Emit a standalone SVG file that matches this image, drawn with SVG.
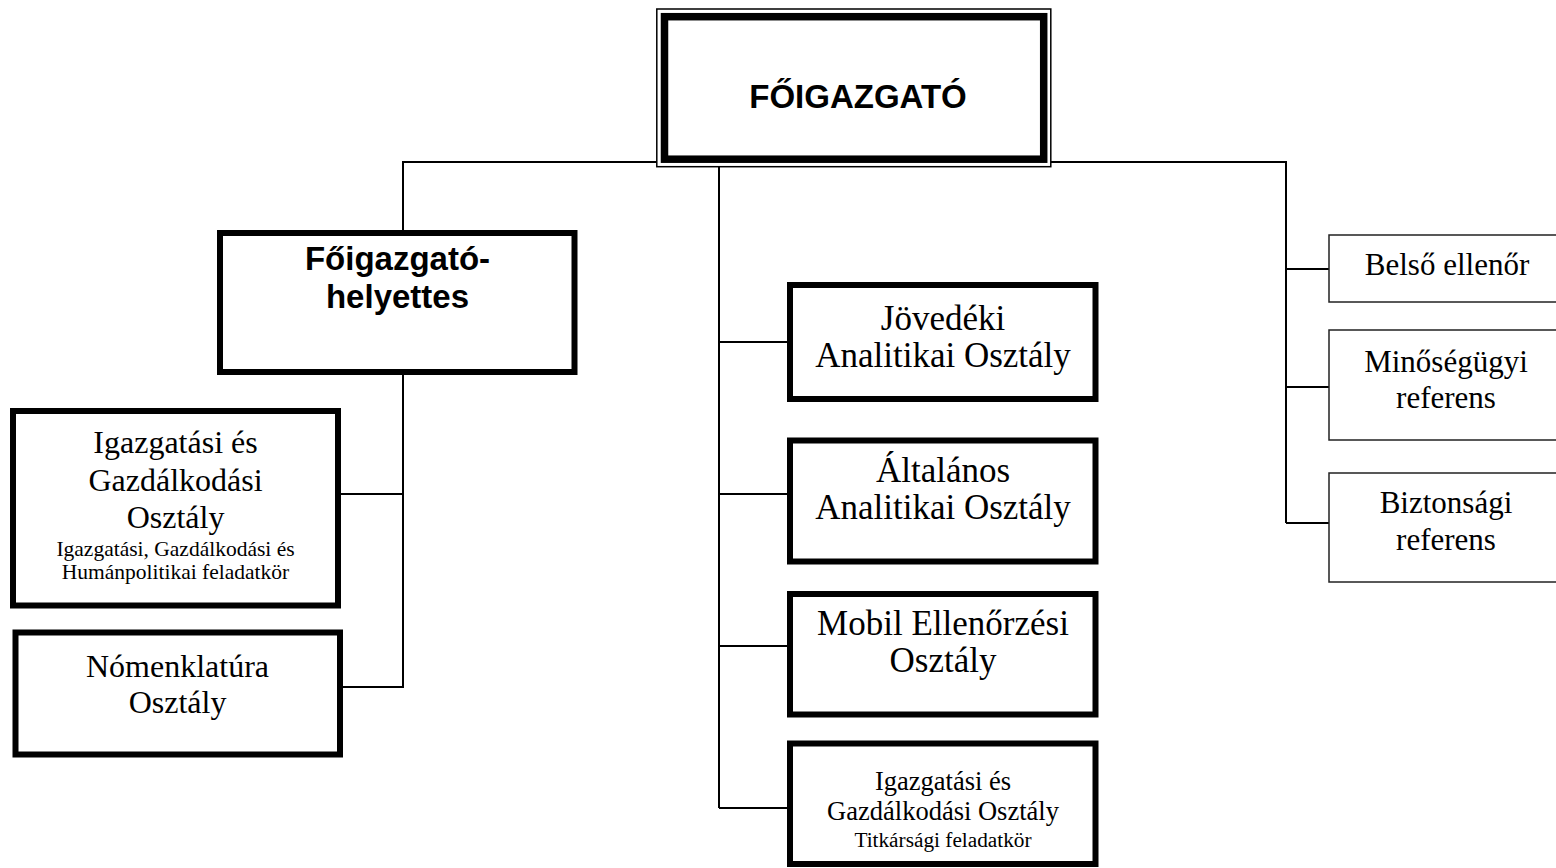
<svg xmlns="http://www.w3.org/2000/svg" width="1556" height="868" viewBox="0 0 1556 868">
<style>
.bg{fill:#fff}
.conn{stroke:#000;stroke-width:2;fill:none}
.thick{fill:#fff;stroke:#000;stroke-width:6}
.thin{fill:#fff;stroke:#222;stroke-width:1.5}
.sans{font-family:"Liberation Sans",Arial,sans-serif;font-weight:bold;fill:#000;text-anchor:middle}
.serif{font-family:"Liberation Serif","Times New Roman",serif;fill:#000;text-anchor:middle}
</style>
<rect class="bg" x="0" y="0" width="1556" height="868"/>
<g id="connectors">
<polyline class="conn" points="403,233 403,162 1286,162 1286,523"/>
<line class="conn" x1="719" y1="162" x2="719" y2="808"/>
<line class="conn" x1="403" y1="372" x2="403" y2="688"/>
<line class="conn" x1="340" y1="494" x2="403" y2="494"/>
<line class="conn" x1="342" y1="687" x2="403" y2="687"/>
<line class="conn" x1="719" y1="342" x2="790" y2="342"/>
<line class="conn" x1="719" y1="494" x2="790" y2="494"/>
<line class="conn" x1="719" y1="646" x2="790" y2="646"/>
<line class="conn" x1="719" y1="808" x2="790" y2="808"/>
<line class="conn" x1="1286" y1="269" x2="1329" y2="269"/>
<line class="conn" x1="1286" y1="387" x2="1329" y2="387"/>
<line class="conn" x1="1286" y1="523" x2="1329" y2="523"/>
</g>
<g id="foigazgato">
<rect x="656.8" y="9" width="394" height="157.7" fill="#fff" stroke="#000" stroke-width="1.5"/>
<rect x="664.5" y="16.7" width="379.2" height="142.5" fill="#fff" stroke="#000" stroke-width="7.5"/>
<text class="sans" x="858" y="108" font-size="33">FŐIGAZGATÓ</text>
</g>
<g id="helyettes">
<rect class="thick" x="220" y="233" width="354.5" height="139"/>
<text class="sans" x="397.5" y="270" font-size="33">Főigazgató-</text>
<text class="sans" x="397.5" y="308" font-size="33">helyettes</text>
</g>
<g id="igazgatasi1">
<rect class="thick" x="13" y="411" width="325" height="194.5"/>
<text class="serif" x="175.5" y="453" font-size="32">Igazgatási és</text>
<text class="serif" x="175.5" y="491" font-size="32">Gazdálkodási</text>
<text class="serif" x="175.5" y="528" font-size="32">Osztály</text>
<text class="serif" x="175.5" y="556" font-size="21.5">Igazgatási, Gazdálkodási és</text>
<text class="serif" x="175.5" y="579" font-size="21.5">Humánpolitikai feladatkör</text>
</g>
<g id="nomenklatura">
<rect class="thick" x="15.5" y="632.5" width="324.5" height="122"/>
<text class="serif" x="177.5" y="677" font-size="32">Nómenklatúra</text>
<text class="serif" x="177.5" y="713" font-size="32">Osztály</text>
</g>
<g id="jovedeki">
<rect class="thick" x="790" y="285" width="305.5" height="114"/>
<text class="serif" x="943" y="330" font-size="35">Jövedéki</text>
<text class="serif" x="943" y="367" font-size="35">Analitikai Osztály</text>
</g>
<g id="altalanos">
<rect class="thick" x="790" y="440.5" width="305.5" height="121"/>
<text class="serif" x="943" y="482" font-size="35">Általános</text>
<text class="serif" x="943" y="519" font-size="35">Analitikai Osztály</text>
</g>
<g id="mobil">
<rect class="thick" x="790" y="594" width="305.5" height="120.5"/>
<text class="serif" x="943" y="635" font-size="35">Mobil Ellenőrzési</text>
<text class="serif" x="943" y="672" font-size="35">Osztály</text>
</g>
<g id="igazgatasi2">
<rect class="thick" x="790" y="743.5" width="305.5" height="120.5"/>
<text class="serif" x="943" y="790" font-size="26.5">Igazgatási és</text>
<text class="serif" x="943" y="820" font-size="26.5">Gazdálkodási Osztály</text>
<text class="serif" x="943" y="847" font-size="21.3">Titkársági feladatkör</text>
</g>
<g id="belso">
<rect class="thin" x="1329" y="235" width="240" height="67"/>
<text class="serif" x="1447" y="275" font-size="31">Belső ellenőr</text>
</g>
<g id="minoseg">
<rect class="thin" x="1329" y="330" width="240" height="110"/>
<text class="serif" x="1446" y="372" font-size="31">Minőségügyi</text>
<text class="serif" x="1446" y="408" font-size="31">referens</text>
</g>
<g id="biztonsagi">
<rect class="thin" x="1329" y="473" width="240" height="109"/>
<text class="serif" x="1446" y="513" font-size="31">Biztonsági</text>
<text class="serif" x="1446" y="550" font-size="31">referens</text>
</g>
</svg>
